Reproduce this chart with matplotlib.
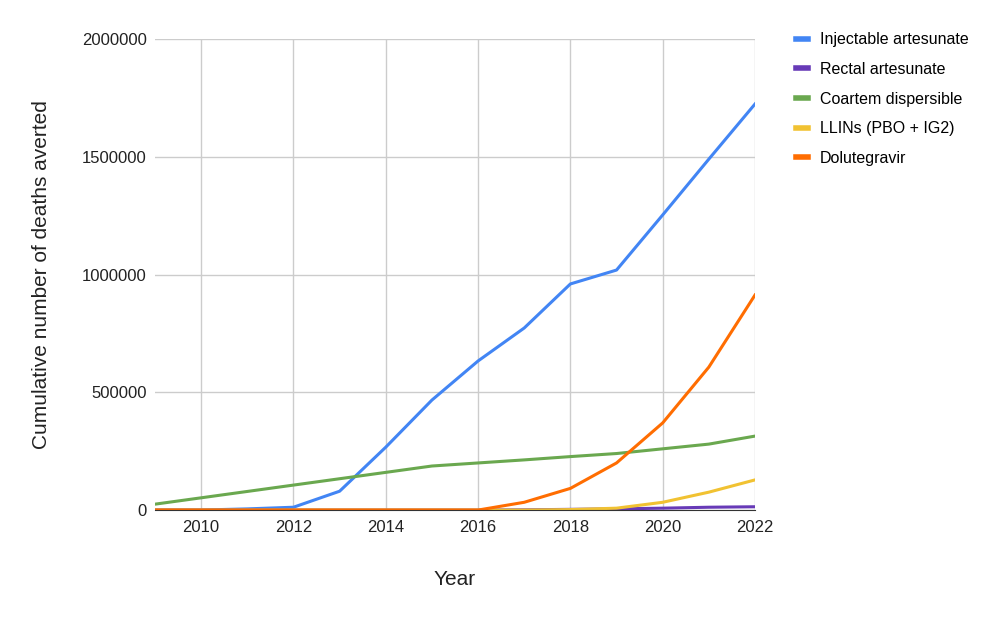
import matplotlib.pyplot as plt

plt.rcParams['font.family'] = ['Liberation Sans', 'DejaVu Sans']

# Cumulative deaths averted per year
years = [2009, 2010, 2011, 2012, 2013, 2014, 2015, 2016, 2017, 2018, 2019, 2020, 2021, 2022]
injectable = [0, 0, 5000, 12000, 80000, 267000, 467000, 633000, 773000, 960000, 1019000, 1253000, 1490000, 1724000]
rectal = [0, 0, 0, 0, 0, 0, 0, 0, 1000, 3000, 5000, 8000, 12000, 14000]
coartem = [25000, 52000, 79000, 106000, 133000, 160000, 187000, 200000, 213000, 227000, 240000, 260000, 280000, 314000]
llins = [0, 0, 0, 0, 0, 0, 0, 0, 0, 2000, 8000, 33000, 76000, 128000]
dolutegravir = [0, 0, 0, 0, 0, 0, 0, 0, 33000, 92000, 200000, 370000, 607000, 913000]

series = [
    ('Injectable artesunate', injectable, '#4285f4'),
    ('Rectal artesunate', rectal, '#673ab7'),
    ('Coartem dispersible', coartem, '#6aa84f'),
    ('LLINs (PBO + IG2)', llins, '#f1c232'),
    ('Dolutegravir', dolutegravir, '#ff6d01'),
]

fig = plt.figure(figsize=(10, 6.19), dpi=100)
ax = fig.add_axes([0.155, 0.176, 0.6, 0.761])

for name, vals, col in series:
    ax.plot(years, vals, color=col, linewidth=2.2, label=name)

ax.set_xlim(2009, 2022)
ax.set_ylim(0, 2000000)
ax.set_xticks(range(2010, 2023, 2))
ax.set_yticks([0, 500000, 1000000, 1500000, 2000000])
ax.set_yticklabels(['0', '500000', '1000000', '1500000', '2000000'])
ax.grid(True, color='#cccccc', linewidth=1)
ax.set_axisbelow(True)
for s in ['top', 'right', 'left']:
    ax.spines[s].set_visible(False)
ax.spines['bottom'].set_color('#333333')
ax.tick_params(axis='x', length=0, labelsize=12, colors='#222222', pad=7)
ax.tick_params(axis='y', length=0, labelsize=12, colors='#222222', pad=6)

ax.set_xlabel('Year', fontsize=15, labelpad=25, color='#222222')
ax.set_ylabel('Cumulative number of deaths averted', fontsize=15, labelpad=22, color='#222222')

leg = ax.legend(loc='upper left', bbox_to_anchor=(1.045, 1.045), frameon=False, fontsize=11.5,
                handlelength=0.75, handletextpad=0.7, labelspacing=0.92)
for h in leg.get_lines():
    h.set_linewidth(4)

fig.savefig('out.png', dpi=100)
